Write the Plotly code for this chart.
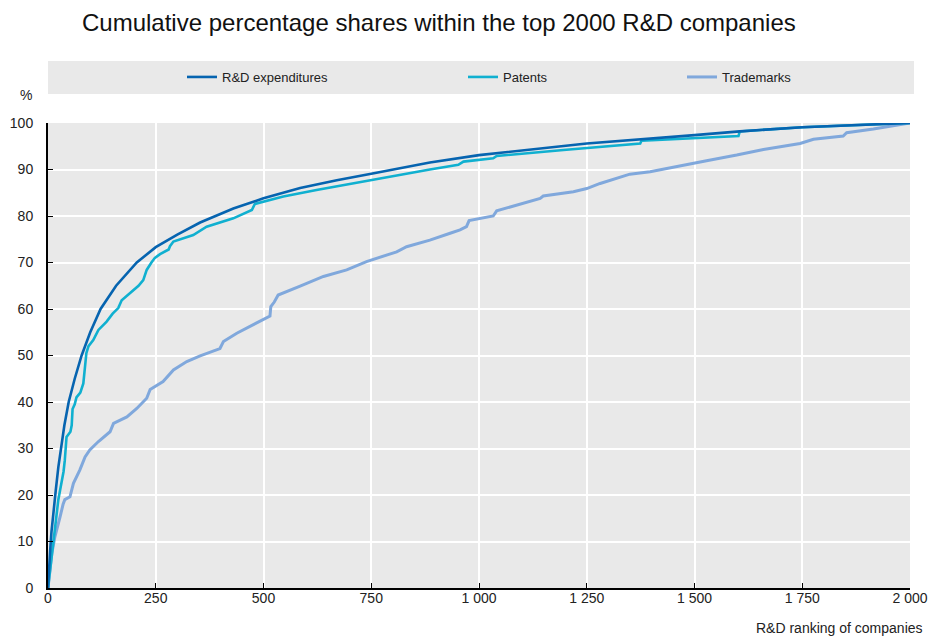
import plotly.graph_objects as go

# ---- data ----
rd_rank = [0, 2, 5, 8, 12, 18, 24, 30, 38, 48, 62, 78, 98, 122, 158, 206, 250, 300, 353, 430,
           500, 585, 670, 750, 886, 1000, 1250, 1500, 1605, 1750, 2000]
rd_share = [0, 4, 8, 12, 16, 21, 26, 30, 35, 40, 45, 50, 55, 60, 65, 70, 73.3, 76, 78.6, 81.6,
            83.8, 86, 87.7, 89.1, 91.5, 93.1, 95.6, 97.4, 98.2, 99.1, 100]

pat_rank = [0, 5, 9, 16, 20, 24, 28, 32, 36, 39, 41, 43, 52, 55, 57, 62, 66, 75, 82, 86, 89, 94,
            105, 117, 136, 150, 163, 171, 185, 198, 210, 221, 229, 240, 248, 260, 280, 283, 291,
            337, 368, 430, 473, 480, 546, 623, 747, 886, 952, 964, 1033, 1041, 1196, 1281, 1374,
            1377, 1602, 1605, 1750, 2000]
pat_share = [0, 4, 6.7, 11.8, 15, 19, 21, 23, 25, 27.5, 31, 32.5, 33.6, 35, 38.5, 39.5, 41, 42,
             44, 47, 50.5, 52, 53.3, 55.5, 57.3, 59, 60.2, 61.9, 63, 64.1, 65, 66.2, 68.4, 70, 71,
             71.8, 72.8, 73.5, 74.5, 75.9, 77.7, 79.5, 81.3, 82.6, 84.2, 85.6, 87.7, 90, 91, 91.7,
             92.4, 92.9, 94.2, 94.9, 95.6, 96.2, 97.2, 98.2, 99.1, 100]

tm_rank = [0, 5, 9, 16, 22, 28, 35, 39, 51, 55, 59, 74, 86, 97, 117, 144, 152, 183, 206, 229, 237,
           267, 291, 322, 353, 399, 407, 438, 476, 515, 517, 525, 534, 554, 585, 639, 693, 739,
           809, 832, 886, 933, 956, 971, 977, 1033, 1041, 1142, 1149, 1219, 1250, 1281, 1350,
           1397, 1474, 1528, 1598, 1660, 1745, 1776, 1845, 1853, 1915, 2000]
tm_share = [0, 4, 7.5, 11, 13, 15.3, 18, 19, 19.6, 21, 22.5, 25.4, 28.2, 29.7, 31.5, 33.6, 35.4,
            36.8, 38.6, 40.8, 42.7, 44.4, 46.9, 48.7, 49.9, 51.5, 53, 54.8, 56.6, 58.5, 60.5, 61.5,
            63, 63.7, 64.9, 67, 68.4, 70.2, 72.3, 73.4, 74.8, 76.3, 77, 77.7, 79, 80, 81.1, 83.8,
            84.3, 85.2, 85.9, 87, 89, 89.5, 91, 91.9, 93.1, 94.3, 95.6, 96.5, 97.2, 97.9, 98.7, 100]

series_names = ["R&D expenditures", "Patents", "Trademarks"]
series_colors = ["#0664b0", "#10b0d0", "#80a8dc"]

x_ticks = [0, 250, 500, 750, 1000, 1250, 1500, 1750, 2000]
x_ticklabels = ["0", "250", "500", "750", "1 000", "1 250", "1 500", "1 750", "2 000"]
y_ticks = [0, 10, 20, 30, 40, 50, 60, 70, 80, 90, 100]

title_text = "Cumulative percentage shares within the top 2000 R&D companies"
x_title = "R&D ranking of companies"
y_unit = "%"

FONT = "Liberation Sans, Arial, sans-serif"
BG = "#e9e9e9"
TXT = "#222222"

fig = go.Figure()
data = [(rd_rank, rd_share), (pat_rank, pat_share), (tm_rank, tm_share)]
legends = ["legend", "legend2", "legend3"]
widths = [2.6, 2.6, 3]
# draw trademarks first so darker lines on top
for i in [2, 1, 0]:
    xs, ys = data[i]
    fig.add_trace(go.Scatter(x=xs, y=ys, mode="lines", name=series_names[i],
                             line=dict(color=series_colors[i], width=widths[i]),
                             legend=legends[i], hoverinfo="skip"))

W, H = 936, 637
L, R, T, B = 48, 26, 123, 49
pw, ph = W - L - R, H - T - B

def px(xp):
    return (xp - L) / pw

def py(yp):
    return (H - B - yp) / ph

legend_font = dict(family=FONT, size=13, color=TXT)
leg_text_x = [222, 503, 722]
common = dict(orientation="h", xref="container", yref="container", xanchor="left",
              yanchor="middle", y=1 - 77 / H, bgcolor="rgba(0,0,0,0)", font=legend_font,
              borderwidth=0)

tick_font = dict(family=FONT, size=14, color=TXT)

fig.update_layout(
    width=W, height=H,
    margin=dict(l=L, r=R, t=T, b=B, autoexpand=False),
    paper_bgcolor="white", plot_bgcolor=BG,
    title=dict(text=title_text, xref="container", yref="container", x=82 / W, xanchor="left",
               y=1 - 23 / H, yanchor="middle",
               font=dict(family=FONT, size=24, color="#111111")),
    legend=dict(x=(leg_text_x[0] - 40) / W, **common),
    legend2=dict(x=(leg_text_x[1] - 40) / W, **common),
    legend3=dict(x=(leg_text_x[2] - 40) / W, **common),
    showlegend=True,
    xaxis=dict(range=[0, 2000], tickvals=x_ticks, ticktext=x_ticklabels, automargin=False,
               showgrid=True, gridcolor="white", gridwidth=1.6,
               showline=True, linecolor="black", linewidth=2,
               ticks="inside", ticklen=5, tickcolor="black", tickwidth=1.3,
               ticklabelstandoff=-4, tickfont=tick_font,
               zeroline=False, fixedrange=True),
    yaxis=dict(range=[0, 100], tickvals=y_ticks, automargin=False,
               showgrid=True, gridcolor="white", gridwidth=1.6,
               showline=True, linecolor="black", linewidth=2,
               ticks="inside", ticklen=5, tickcolor="black", tickwidth=1.3,
               ticklabelstandoff=10, tickfont=tick_font,
               zeroline=False, fixedrange=True),
    shapes=[dict(type="rect", xref="paper", yref="paper", x0=0, x1=px(914),
                 y0=py(94), y1=py(61), fillcolor=BG, line=dict(width=0), layer="below")],
    annotations=[
        dict(text=y_unit, xref="paper", yref="paper", x=px(26), y=py(95), xanchor="center",
             yanchor="middle", showarrow=False, font=tick_font),
        dict(text=x_title, xref="paper", yref="paper", x=px(925), y=py(628), xanchor="right",
             yanchor="middle", showarrow=False, font=tick_font),
    ],
)

fig.write_html("out.html", config={"displayModeBar": False},
               post_script="document.body.style.margin='0';document.body.style.overflow='hidden';")
